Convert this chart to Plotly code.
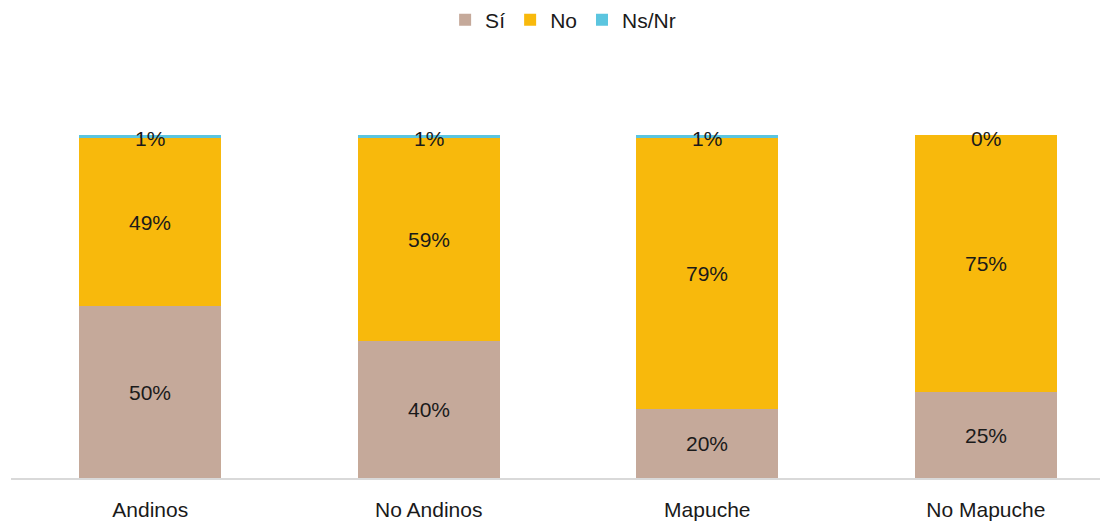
import plotly.graph_objects as go

categories = ["Andinos", "No Andinos", "Mapuche", "No Mapuche"]
si = [50, 40, 20, 25]
no = [49, 59, 79, 75]
nsnr = [1, 1, 1, 0]
labels_si = ["50%", "40%", "20%", "25%"]
labels_no = ["49%", "59%", "79%", "75%"]
labels_ns = ["1%", "1%", "1%", "0%"]

colors = {"Sí": "#C5A99A", "No": "#F8B90C", "Ns/Nr": "#5BC5DF"}
font = "Liberation Sans, Arial, sans-serif"
fs = 21

fig = go.Figure()
for name, vals in [("Sí", si), ("No", no), ("Ns/Nr", nsnr)]:
    fig.add_trace(go.Bar(
        x=list(range(len(categories))), y=vals, name=name,
        marker=dict(color=colors[name], line=dict(width=0)),
        width=0.51, hoverinfo="skip",
    ))

ann = []
for i in range(len(categories)):
    ann.append(dict(x=i, y=si[i] / 2, text=labels_si[i], showarrow=False,
                    font=dict(size=fs, color="#1a1a1a", family=font)))
    ann.append(dict(x=i, y=si[i] + no[i] / 2, text=labels_no[i], showarrow=False,
                    font=dict(size=fs, color="#1a1a1a", family=font)))
    ann.append(dict(x=i, y=si[i] + no[i] + nsnr[i], text=labels_ns[i], showarrow=False,
                    yshift=-4, font=dict(size=fs, color="#1a1a1a", family=font)))

fig.update_layout(
    barmode="stack",
    width=1108, height=522,
    margin=dict(l=3, r=16, t=92, b=52),
    paper_bgcolor="white", plot_bgcolor="white",
    font=dict(family=font, size=fs, color="#1a1a1a"),
    legend=dict(orientation="h", x=0.507, xanchor="center", y=0.977, yref="container",
                yanchor="middle", font=dict(size=fs), traceorder="normal",
                itemwidth=30, tracegroupgap=0),
    annotations=ann,
    xaxis=dict(range=[-0.5, 3.41], tickmode="array", tickvals=list(range(len(categories))),
               ticktext=categories, showgrid=False, zeroline=False,
               showline=True, linecolor="#d9d9d9", linewidth=2, ticks="",
               ticklabelstandoff=12,
               tickfont=dict(size=fs, color="#1a1a1a")),
    yaxis=dict(range=[0, 110.2], visible=False, showgrid=False, zeroline=False),
    bargap=0,
)

fig.write_html("out.html")
